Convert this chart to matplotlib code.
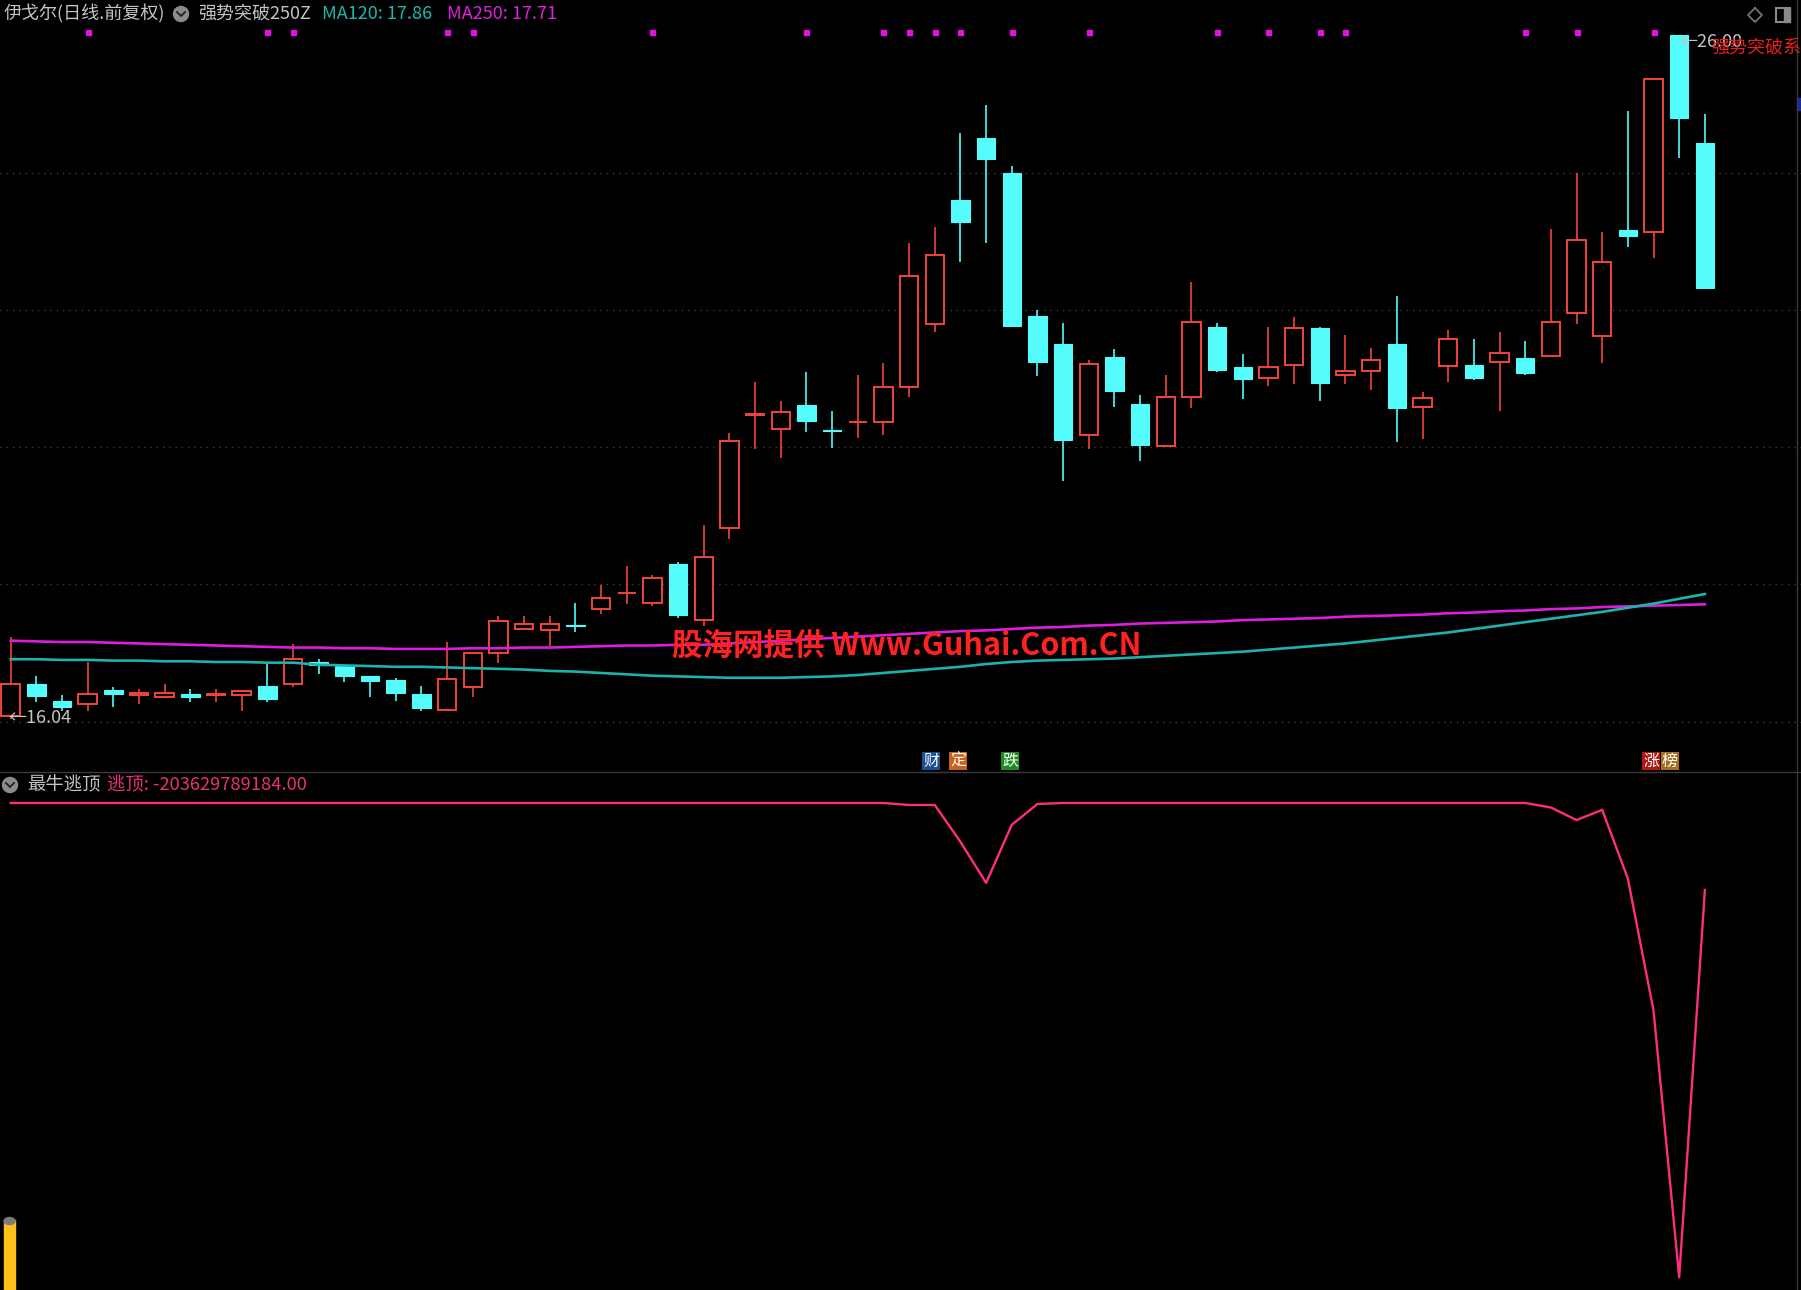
import matplotlib
matplotlib.use('Agg')
import matplotlib.pyplot as plt
import matplotlib.transforms as mtransforms
from matplotlib.patches import Rectangle, Ellipse
from matplotlib.lines import Line2D
import numpy as np

plt.rcParams['font.family'] = ['Noto Sans CJK SC', 'DejaVu Sans']

# ---------------- data ----------------
opens = [16.08, 16.55, 16.30, 16.26, 16.46, 16.39, 16.36, 16.41, 16.39, 16.39,
         16.52, 16.55, 16.87, 16.81, 16.66, 16.61, 16.41, 16.17, 16.51, 17.00,
         17.35, 17.34, 17.41, 17.64, 17.87, 17.73, 18.29, 17.48, 18.82, 20.47,
         20.26, 20.61, 20.24, 20.36, 20.37, 20.87, 21.80, 23.60, 24.50, 24.00,
         21.91, 21.50, 20.18, 21.31, 20.63, 20.02, 20.73, 21.75, 21.17, 21.00,
         21.20, 21.73, 21.05, 21.11, 21.50, 20.59, 21.18, 21.20, 21.24, 21.30,
         21.33, 21.95, 21.62, 23.16, 23.13, 26.00, 24.43]
highs = [17.24, 16.66, 16.39, 16.87, 16.50, 16.47, 16.55, 16.47, 16.47, 16.45,
         16.86, 17.13, 16.91, 16.83, 16.66, 16.63, 16.52, 17.16, 17.01, 17.54,
         17.54, 17.54, 17.73, 17.99, 18.27, 18.14, 18.32, 18.86, 20.20, 20.95,
         20.67, 21.09, 20.52, 21.05, 21.22, 22.97, 23.21, 24.57, 24.98, 24.09,
         22.00, 21.81, 21.27, 21.43, 20.76, 21.05, 22.41, 21.81, 21.35, 21.75,
         21.90, 21.75, 21.63, 21.44, 22.20, 20.80, 21.71, 21.57, 21.67, 21.55,
         23.17, 24.00, 23.13, 24.90, 25.36, 26.00, 24.85]
lows = [16.04, 16.28, 16.15, 16.16, 16.21, 16.26, 16.34, 16.28, 16.29, 16.15,
        16.29, 16.51, 16.69, 16.58, 16.36, 16.30, 16.15, 16.17, 16.36, 16.85,
        17.34, 17.10, 17.30, 17.57, 17.71, 17.68, 17.51, 17.39, 18.66, 19.97,
        19.84, 20.22, 19.99, 20.13, 20.17, 20.73, 21.67, 22.69, 22.98, 21.76,
        21.04, 19.51, 19.97, 20.59, 19.80, 20.02, 20.57, 21.10, 20.70, 20.89,
        20.92, 20.67, 20.92, 20.83, 20.07, 20.12, 20.95, 20.98, 20.53, 21.05,
        21.33, 21.80, 21.22, 22.92, 22.75, 24.21, 22.32]
closes = [16.55, 16.37, 16.22, 16.40, 16.40, 16.42, 16.42, 16.36, 16.40, 16.45,
          16.33, 16.92, 16.82, 16.67, 16.60, 16.42, 16.20, 16.62, 17.00, 17.47,
          17.42, 17.42, 17.40, 17.80, 17.88, 18.10, 17.55, 18.40, 20.09, 20.48,
          20.51, 20.38, 20.23, 20.37, 20.88, 22.49, 22.80, 23.28, 24.20, 21.77,
          21.24, 20.11, 21.21, 20.82, 20.03, 20.73, 21.82, 21.12, 20.99, 21.16,
          21.73, 20.94, 21.11, 21.27, 20.57, 20.72, 21.57, 21.01, 21.37, 21.08,
          21.82, 23.02, 22.69, 23.08, 25.36, 24.79, 22.32]
ma120 = [16.91, 16.91, 16.90, 16.90, 16.89, 16.89, 16.88, 16.88, 16.87, 16.87,
         16.86, 16.86, 16.83, 16.82, 16.81, 16.80, 16.80, 16.79, 16.78, 16.77,
         16.76, 16.74, 16.73, 16.71, 16.69, 16.67, 16.66, 16.65, 16.64, 16.64,
         16.64, 16.65, 16.66, 16.68, 16.71, 16.74, 16.77, 16.80, 16.84, 16.87,
         16.89, 16.90, 16.91, 16.92, 16.94, 16.96, 16.98, 17.00, 17.02, 17.05,
         17.08, 17.11, 17.14, 17.18, 17.22, 17.26, 17.30, 17.35, 17.40, 17.45,
         17.50, 17.55, 17.60, 17.66, 17.72, 17.79, 17.86]
ma250 = [17.18, 17.17, 17.16, 17.16, 17.15, 17.14, 17.13, 17.12, 17.11, 17.10,
         17.09, 17.08, 17.08, 17.07, 17.07, 17.06, 17.06, 17.06, 17.07, 17.07,
         17.08, 17.08, 17.09, 17.10, 17.11, 17.11, 17.12, 17.12, 17.14, 17.16,
         17.18, 17.20, 17.22, 17.24, 17.26, 17.28, 17.30, 17.32, 17.33, 17.35,
         17.37, 17.38, 17.40, 17.41, 17.43, 17.44, 17.45, 17.46, 17.48, 17.49,
         17.50, 17.51, 17.53, 17.54, 17.55, 17.56, 17.58, 17.59, 17.61, 17.62,
         17.64, 17.65, 17.67, 17.68, 17.69, 17.70, 17.71]
signal_idx = [3, 10, 11, 17, 18, 25, 31, 34, 35, 36, 37, 39, 42, 47, 49, 51, 52, 59, 61, 64]
escape_top = [0.0, 0.0, 0.0, 0.0, 0.0, 0.0, 0.0, 0.0, 0.0, 0.0,
              0.0, 0.0, 0.0, 0.0, 0.0, 0.0, 0.0, 0.0, 0.0, 0.0,
              0.0, 0.0, 0.0, 0.0, 0.0, 0.0, 0.0, 0.0, 0.0, 0.0,
              0.0, 0.0, 0.0, 0.0, 0.0, -4.7e9, -4.7e9, -9.1e10, -1.87e11, -5.1e10,
              -2.3e9, 0.0, 0.0, 0.0, 0.0, 0.0, 0.0, 0.0, 0.0, 0.0,
              0.0, 0.0, 0.0, 0.0, 0.0, 0.0, 0.0, 0.0, 0.0, 0.0,
              -1.05e10, -4.0e10, -1.6e10, -1.77e11, -4.86e11, -1.11e12, -203629789184.0]
price_grid = [16, 18, 20, 22, 24]

# ---------------- layout ----------------
W, H = 1801, 1290
fig = plt.figure(figsize=(W / 100, H / 100), dpi=100, facecolor='black')

def fx(px):
    return px / W

def fy(py):
    return 1 - py / H

def T(px, py, s, **kw):
    return fig.text(fx(px), fy(py), s, **kw)

SEP = 772
ax = fig.add_axes([0, fy(SEP), 1, SEP / H])
ax2 = fig.add_axes([0, 0, 1, fy(SEP)])
for a in (ax, ax2):
    a.set_facecolor('black')
    a.set_xticks([])
    a.set_yticks([])
    for s in a.spines.values():
        s.set_visible(False)
    a.set_xlim(-0.4168, 69.745)

ax.set_ylim(15.2673, 26.5129)
ax2.set_ylim(-1.1396e12, 7.25e10)

RED = '#f2443c'
CYAN = '#54fcfc'

o = np.array(opens); h = np.array(highs); l = np.array(lows); c = np.array(closes)
idx = np.arange(len(o))
up = c >= o
dn = ~up

# grid
for g in price_grid:
    ax.axhline(g, color='#3e3e3e', lw=1.0, ls=(0, (1, 3.5)), zorder=0)

bw = 0.72
# down (cyan) candles
ax.vlines(idx[dn], l[dn], h[dn], color=CYAN, lw=1.2, zorder=2)
ax.bar(idx[dn], np.maximum(o[dn] - c[dn], 0.012), bottom=c[dn], width=bw,
       color=CYAN, edgecolor=CYAN, lw=0.8, zorder=3)
# up (red) candles: hollow
top = np.maximum(o, c)
bot = np.minimum(o, c)
ax.vlines(idx[up], top[up], h[up], color=RED, lw=1.2, zorder=2)
ax.vlines(idx[up], l[up], bot[up], color=RED, lw=1.2, zorder=2)
ax.bar(idx[up], np.maximum(c[up] - o[up], 0.012), bottom=o[up], width=bw,
       facecolor='black', edgecolor=RED, lw=1.4, zorder=3)

# moving averages
ax.plot(idx, ma250, color='#dc1edc', lw=1.9, zorder=4)
ax.plot(idx, ma120, color='#1db2ac', lw=1.9, zorder=4)

# signal dots at top
trans = mtransforms.blended_transform_factory(ax.transData, ax.transAxes)
ax.plot(signal_idx, [1 - 32 / SEP] * len(signal_idx), 's', color='#e012e0',
        ms=3.6, transform=trans, zorder=5, clip_on=False)

# indicator line
ax2.plot(idx, escape_top, color='#ff2d80', lw=1.7)

# ---------------- texts ----------------
GRAY = '#c4c4c4'
T(4, 14, '伊戈尔(日线.前复权)', color=GRAY, fontsize=13, va='center')
T(198, 14, '强势突破250Z', color=GRAY, fontsize=13, va='center')
T(322, 14, 'MA120: 17.86', color='#1db8b0', fontsize=13, va='center')
T(447, 14, 'MA250: 17.71', color='#e020e0', fontsize=13, va='center')

T(27, 785, '最牛逃顶', color=GRAY, fontsize=13.2, va='center')
T(107, 785, '逃顶: -203629789184.00', color='#e8307c', fontsize=13.2, va='center')

T(8, 718, '←16.04', color=GRAY, fontsize=13, va='center')
T(1679, 42, '←26.00', color=GRAY, fontsize=13, va='center')
T(1711, 48, '强势突破系统', color='#e82020', fontsize=13, va='center')

T(907, 646, '股海网提供 Www.Guhai.Com.CN', color='#ff2222', fontsize=22,
  fontweight='bold', ha='center', va='center')

# tags
for px, s, bg in [(931, '财', '#1d4e8f'), (958, '定', '#c8621a'), (1010, '跌', '#1f8a1f'),
                  (1651, '涨', '#b01818'), (1670, '榜', '#a8701e')]:
    T(px, 761, s, color='white', fontsize=11.5, ha='center', va='center',
      bbox=dict(boxstyle='square,pad=0.06', fc=bg, ec='none'))

# ---------------- decorations ----------------
def add_icon(cx, cy):
    fig.add_artist(Ellipse((fx(cx), fy(cy)), 15 / W, 15 / H, color='#8c8c8c',
                           transform=fig.transFigure))
    fig.add_artist(Line2D([fx(cx - 4), fx(cx), fx(cx + 4)], [fy(cy - 2), fy(cy + 2), fy(cy - 2)],
                          color='#202020', lw=1.3, transform=fig.transFigure))

add_icon(181, 14)
add_icon(10, 785)

# separator and right border
fig.add_artist(Line2D([0, 1], [fy(SEP), fy(SEP)], color='#3a3a3a', lw=1.0, transform=fig.transFigure))
fig.add_artist(Line2D([fx(1796.5), fx(1796.5)], [0, 1], color='#3a3a3a', lw=1.0, transform=fig.transFigure))

# top-right icons
fig.add_artist(Line2D([fx(1755), fx(1762), fx(1755), fx(1748), fx(1755)],
                      [fy(8), fy(15), fy(22), fy(15), fy(8)], color='#7a7a7a', lw=1.2,
                      transform=fig.transFigure))
fig.add_artist(Rectangle((fx(1776), fy(22)), 14 / W, 14 / H, fill=False, ec='#8a8a8a', lw=1.5,
                         transform=fig.transFigure))
fig.add_artist(Rectangle((fx(1784), fy(22)), 6 / W, 14 / H, color='#8a8a8a',
                         transform=fig.transFigure))
fig.add_artist(Rectangle((fx(1797), fy(110)), 4 / W, 12 / H, color='#1a2aa0',
                         transform=fig.transFigure))

# yellow bar bottom-left
fig.add_artist(Rectangle((fx(4), 0), 11 / W, 70 / H, color='#ffc01c', transform=fig.transFigure))
fig.add_artist(Ellipse((fx(9.5), fy(1221)), 11 / W, 7 / H, color='#7a7a7a', transform=fig.transFigure))

fig.savefig('out.png', dpi=100, facecolor='black')
